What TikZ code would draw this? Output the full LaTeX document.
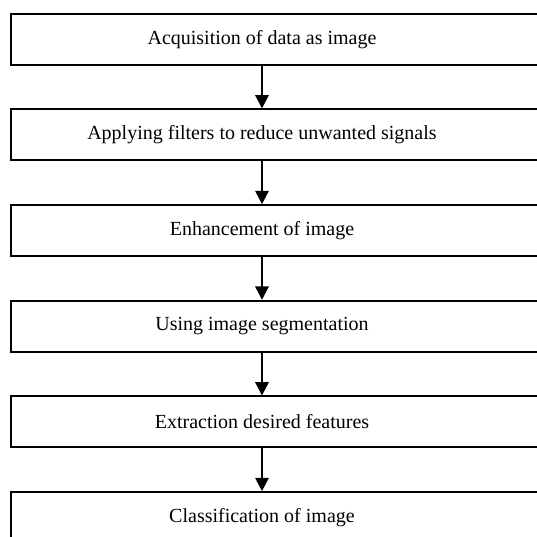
\documentclass[tikz,border=0pt]{standalone}
\usepackage{fontspec}
\setmainfont{Liberation Serif}
\usetikzlibrary{positioning, arrows.meta}

\tikzset{
    stepbox/.style={draw,
        minimum width=395.6pt,
        minimum height=38.25pt,
        inner sep=0pt,
        font=\fontsize{15}{18}\selectfont}
}

\begin{document}
\begin{tikzpicture}[>={Triangle[width=10pt,length=10pt]}, line width=1.5pt,
    x=0.75pt, y=-0.75pt]
    \useasboundingbox (0,0) rectangle (537,537);
    \clip (0,0) rectangle (537,537);

    \node [stepbox] (acquisition) at (274.25, 39.3)
        {Acquisition of data as image\hspace*{18.4pt}};
    \node [stepbox, below=32pt of acquisition] (filters)
        {Applying filters to reduce unwanted signals\hspace*{18.4pt}};
    \node [stepbox, below=32pt of filters] (enhancement)
        {Enhancement of image\hspace*{18.4pt}};
    \node [stepbox, below=32pt of enhancement] (segmentation)
        {Using image segmentation\hspace*{18.4pt}};
    \node [stepbox, below=32pt of segmentation] (extraction)
        {Extraction desired features\hspace*{18.4pt}};
    \node [stepbox, below=32pt of extraction] (classification)
        {Classification of image\hspace*{18.4pt}};

    % arrows
    \draw [->] ([xshift=-9.2pt]acquisition.south) -- ([xshift=-9.2pt]filters.north);
    \draw [->] ([xshift=-9.2pt]filters.south) -- ([xshift=-9.2pt]enhancement.north);
    \draw [->] ([xshift=-9.2pt]enhancement.south) -- ([xshift=-9.2pt]segmentation.north);
    \draw [->] ([xshift=-9.2pt]segmentation.south) -- ([xshift=-9.2pt]extraction.north);
    \draw [->] ([xshift=-9.2pt]extraction.south) -- ([xshift=-9.2pt]classification.north);
\end{tikzpicture}
\end{document}
